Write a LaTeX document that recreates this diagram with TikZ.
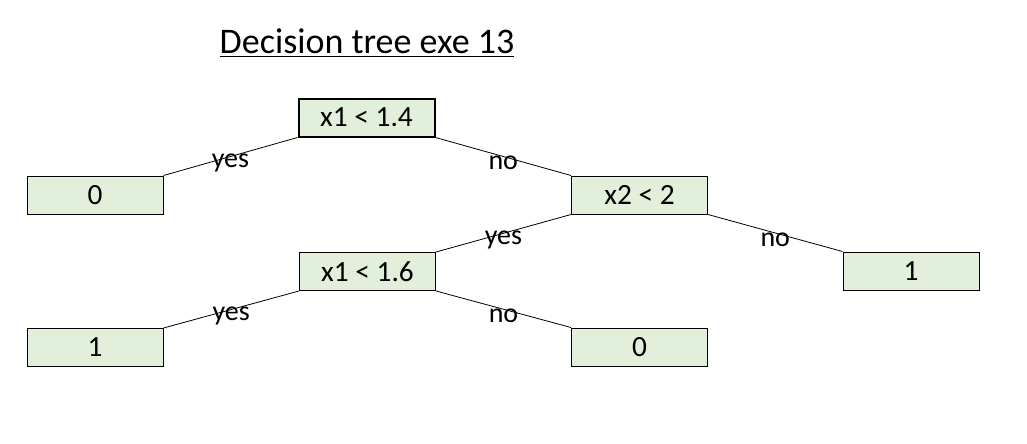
\documentclass[tikz,border=0pt]{standalone}
\usepackage{fontspec}
\setmainfont{Carlito}
\definecolor{leafgreen}{HTML}{E2EFDA}
\begin{document}
\begin{tikzpicture}[x=0.75pt,y=-0.75pt,
  box/.style={draw=black, fill=leafgreen, line width=0.75pt, minimum width=102pt, minimum height=28.5pt, inner sep=0pt, font=\fontsize{22}{24}\selectfont},
  rootbox/.style={box, line width=1.5pt},
  edge/.style={draw=black, line width=0.6pt},
  lbl/.style={midway, yshift=-5pt, inner sep=0pt, font=\fontsize{21}{23}\selectfont}]
\useasboundingbox (0,0) rectangle (1027,443);
\node[font=\fontsize{27}{30}\selectfont] (title) at (367,43) {\underline{Decision tree exe 13}};
\node[rootbox] (root) at (366.5,117.5) {x1 < 1.4};
\node[box] (l0) at (95,195) {0};
\node[box] (x2) at (639.5,195) {x2 < 2};
\node[box] (x1b) at (367.5,271.5) {x1 < 1.6};
\node[box] (r1) at (911,271) {1};
\node[box] (l1) at (95,347.5) {1};
\node[box] (b0) at (639.5,347) {0};
\draw[edge] (root.south west) -- node[lbl]{yes} (l0.north east);
\draw[edge] (root.south east) -- node[lbl]{no} (x2.north west);
\draw[edge] (x2.south west) -- node[lbl]{yes} (x1b.north east);
\draw[edge] (x2.south east) -- node[lbl]{no} (r1.north west);
\draw[edge] (x1b.south west) -- node[lbl]{yes} (l1.north east);
\draw[edge] (x1b.south east) -- node[lbl]{no} (b0.north west);
\end{tikzpicture}
\end{document}
